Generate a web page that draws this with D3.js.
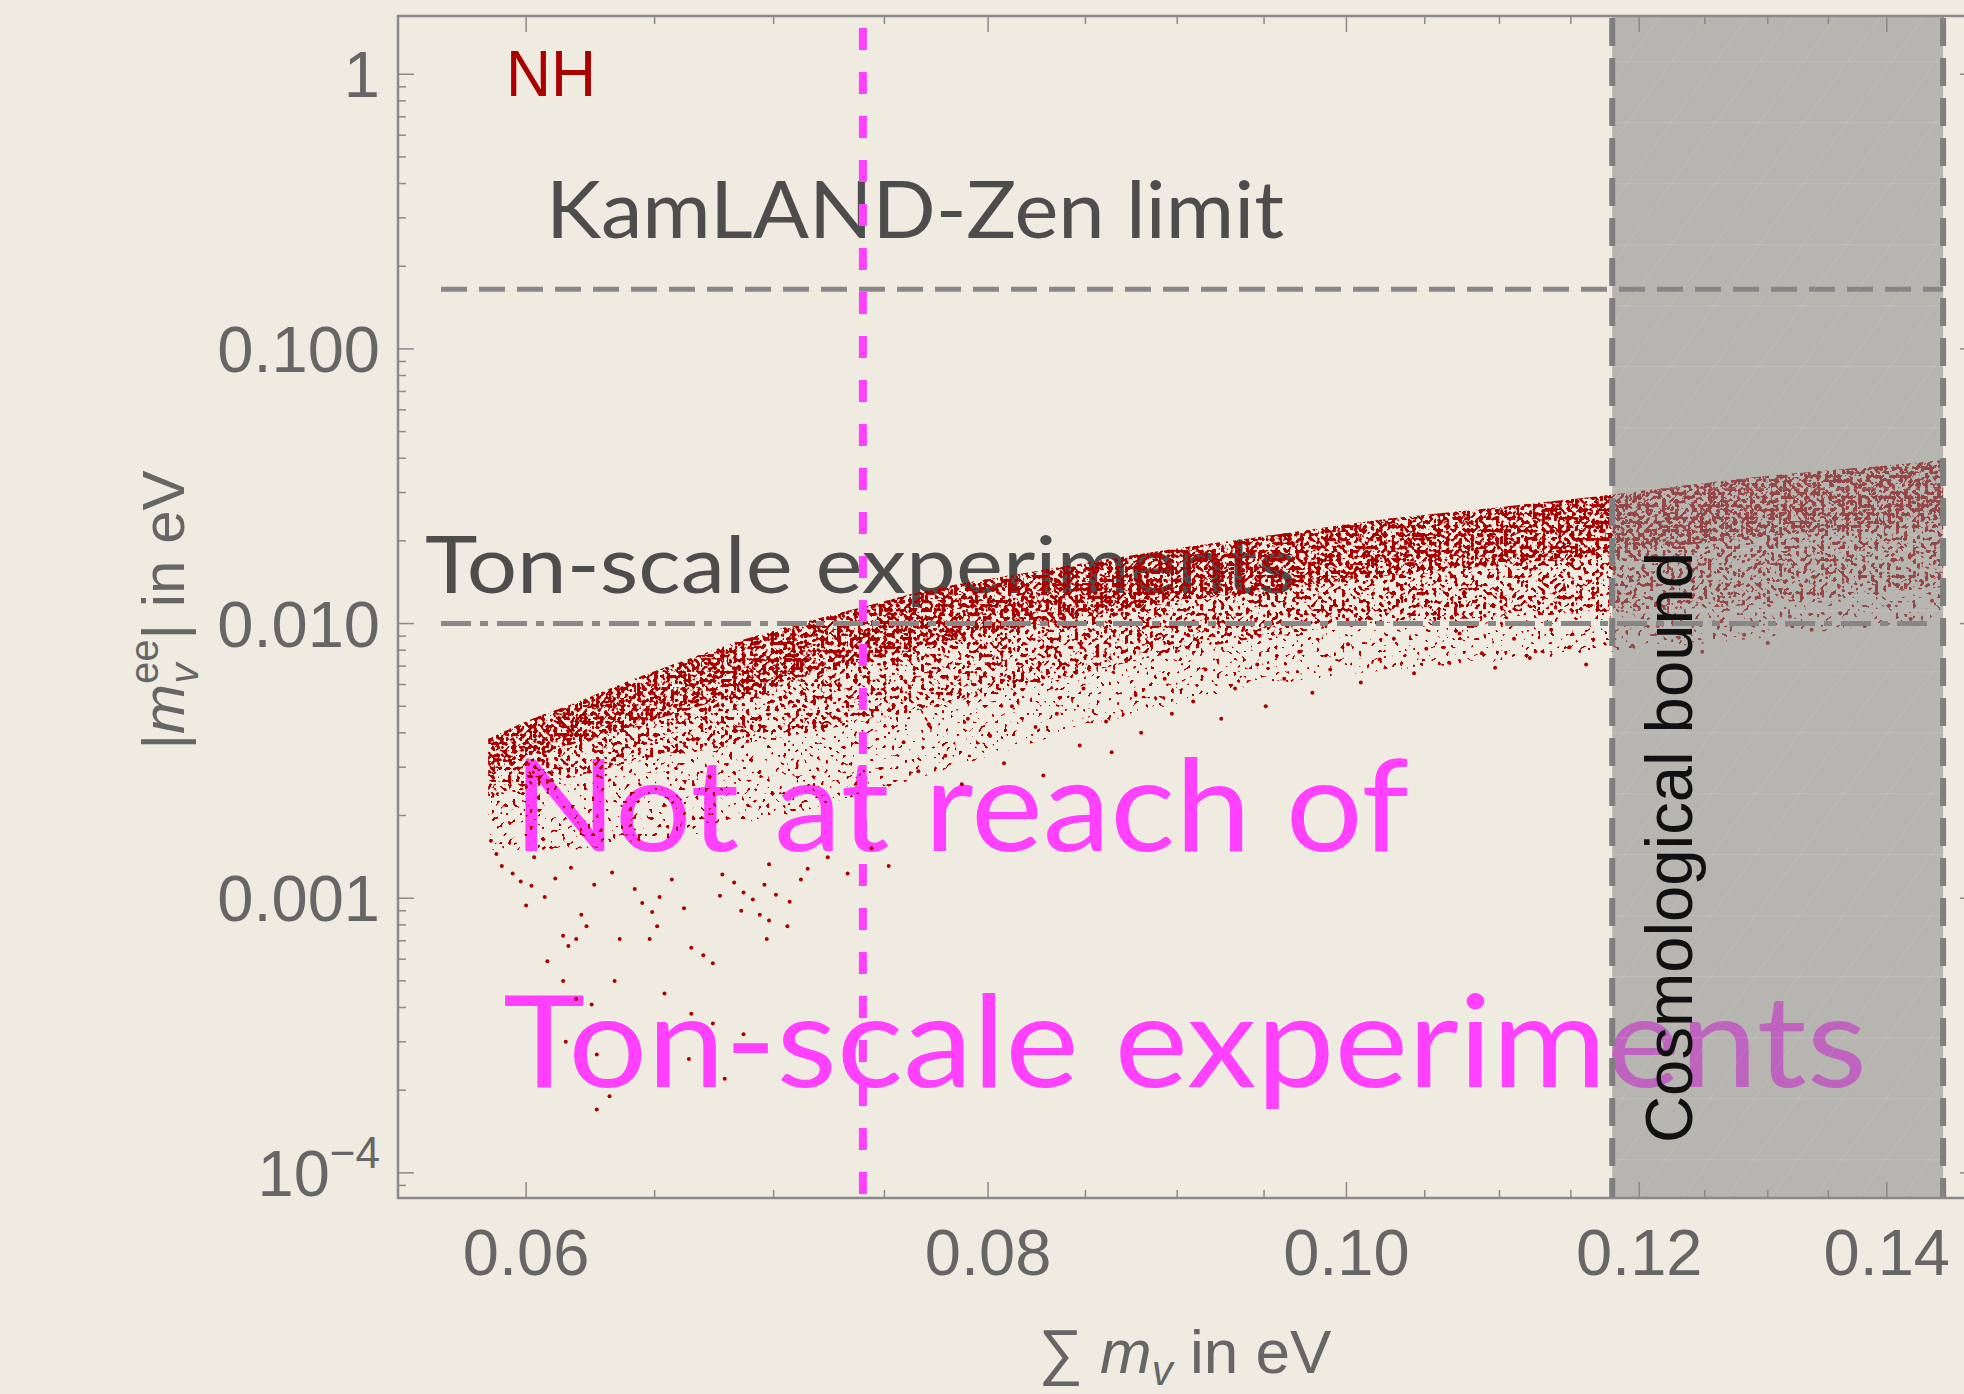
<!DOCTYPE html>
<html>
<head>
<meta charset="utf-8">
<script src="https://cdn.jsdelivr.net/npm/d3@7"></script>
<style>
  html, body { margin: 0; padding: 0; background: #efebe0; }
  svg { display: block; }
</style>
</head>
<body>
<svg id="chart" width="1964" height="1394"></svg>
<script>
// |m_ee| against the sum of neutrino masses (normal hierarchy)

var svg = d3.select("#chart");
var W = 1964, H = 1394;

// ---- data ----
var xTicks = [0.06, 0.08, 0.10, 0.12, 0.14];
var xTickLabels = ["0.06", "0.08", "0.10", "0.12", "0.14"];
var yTicks = [1, 0.1, 0.01, 0.001];
var yTickLabels = ["1", "0.100", "0.010", "0.001"];

var kamlandLimit = 0.165;
var tonScaleLimit = 0.010;
var magentaSum = 0.0740;
var cosmoBound = [0.118, 0.145];

// edges of the scatter band: top, dense core, bulk, sparse fringe
var bandSum    = [0.0586, 0.0600, 0.0620, 0.0640, 0.0665, 0.0690, 0.0715, 0.0740, 0.0770, 0.0807, 0.0840, 0.0872, 0.0905,
                  0.0943, 0.0980, 0.1019, 0.1060, 0.1102, 0.1140, 0.1178, 0.1230, 0.1288, 0.1340, 0.1400, 0.1450];
var bandTop    = [0.0038, 0.0044, 0.0052, 0.0062, 0.0075, 0.0089, 0.0102, 0.0115, 0.0132, 0.0148, 0.0162, 0.0176, 0.0190,
                  0.0205, 0.0221, 0.0238, 0.0252, 0.0266, 0.0280, 0.0294, 0.0316, 0.0340, 0.0358, 0.0376, 0.0394];
var bandCore   = [0.0029, 0.0032, 0.0037, 0.0042, 0.0049, 0.0057, 0.0065, 0.0073, 0.0083, 0.0094, 0.0103, 0.0112, 0.0121,
                  0.0130, 0.0139, 0.0148, 0.0156, 0.0164, 0.0172, 0.0180, 0.0192, 0.0205, 0.0216, 0.0228, 0.0240];
var bandLow    = [0.0023, 0.0025, 0.0028, 0.0031, 0.0034, 0.0037, 0.0040, 0.0044, 0.0049, 0.0057, 0.0064, 0.0072, 0.0080,
                  0.0088, 0.0095, 0.0100, 0.0103, 0.0106, 0.0108, 0.0110, 0.0113, 0.0117, 0.0123, 0.0130, 0.0136];
var bandFringe = [0.0015, 0.0015, 0.0015, 0.0016, 0.0017, 0.0019, 0.0021, 0.0024, 0.0028, 0.0034, 0.0040, 0.0046, 0.0052,
                  0.0058, 0.0063, 0.0067, 0.0070, 0.0073, 0.0076, 0.0079, 0.0083, 0.0088, 0.0093, 0.0099, 0.0105];

// single points below the band
var tailPoints = [
  [0.0598,0.00115],[0.0602,0.00111],[0.0600,0.00094],[0.0607,0.00101],[0.0614,0.00073],[0.0616,0.00067],
  [0.0621,0.00087],[0.0623,0.00079],[0.0619,0.00071],[0.0608,0.00059],[0.0614,0.00050],[0.0634,0.00050],
  [0.0636,0.00071],[0.0645,0.00096],[0.0648,0.00071],[0.0649,0.00089],[0.0651,0.00079],[0.0652,0.00101],
  [0.0654,0.00045],[0.0665,0.00066],[0.0665,0.00038],[0.0670,0.00062],[0.0674,0.00058],[0.0674,0.00035],
  [0.0678,0.00122],[0.0677,0.00102],[0.0687,0.00105],[0.0686,0.00090],[0.0691,0.00099],[0.0694,0.00087],
  [0.0696,0.00112],[0.0698,0.00083],[0.0697,0.00071],[0.0701,0.00103],[0.0707,0.00097],[0.0706,0.00079],
  [0.0698,0.00133],[0.0715,0.00128],[0.0687,0.00032],[0.0679,0.00022],[0.0625,0.00041],[0.0619,0.00043],
  [0.0615,0.00030],[0.0627,0.00027],[0.0632,0.00019],[0.0627,0.00017],[0.0664,0.00026],
  [0.0587,0.00162],[0.0591,0.00131],[0.0589,0.00145],[0.0595,0.00123],[0.0603,0.00141],[0.0611,0.00118],
  [0.0617,0.00129],[0.0626,0.00112],[0.0633,0.00124],[0.0642,0.00108],[0.0657,0.00117],[0.0662,0.00092],
  [0.0683,0.00114],[0.0712,0.00117],[0.0724,0.00141],[0.0733,0.00123],[0.0744,0.00152],[0.0752,0.00131],
  [0.0759,0.0037],[0.0766,0.0029],[0.0771,0.0043],[0.0779,0.0033],[0.0787,0.0026],[0.0790,0.0045],
  [0.0801,0.0039],[0.0808,0.0031],[0.0812,0.0050],[0.0824,0.0042],[0.0828,0.0028],[0.0835,0.0047],
  [0.0847,0.0036],[0.0849,0.0058],[0.0861,0.0044],[0.0864,0.0034],[0.0877,0.0055],[0.0880,0.0040],
  [0.0893,0.0063],[0.0897,0.0047],[0.0909,0.0052],[0.0916,0.0068],[0.0925,0.0045],[0.0933,0.0058],
  [0.0946,0.0071],[0.0951,0.0050],[0.0962,0.0063],[0.0971,0.0079],[0.0979,0.0056],[0.0990,0.0068],
  [0.1001,0.0084],[0.1009,0.0061],[0.1021,0.0074],[0.1030,0.0088],[0.1043,0.0066],[0.1051,0.0081],
  [0.1066,0.0072],[0.1073,0.0092],[0.1088,0.0078],[0.1097,0.0069],[0.1110,0.0088],[0.1121,0.0075],
  [0.1136,0.0095],[0.1149,0.0082],[0.1161,0.0071],[0.1181,0.0093],[0.1195,0.0083],[0.1214,0.0098],
  [0.1230,0.0089],[0.1248,0.0079],[0.1263,0.0102],[0.1281,0.0091],[0.1300,0.0085],[0.1318,0.0106],
  [0.1336,0.0095],[0.1360,0.0109],[0.1381,0.0098],[0.1402,0.0116],[0.1421,0.0104],[0.1440,0.0121]
];

// ---- scales ----
var plotL = 398, plotR = 1976, plotT = 16, plotB = 1198;
var x = d3.scaleLog().domain([0.0554, 0.148]).range([plotL, plotR]);
var y = d3.scaleLog().domain([8.1e-5, 1.63]).range([plotB, plotT]);

var tickCol = "#8a8a8a", labelCol = "#666666", darkRed = "#aa0000", magenta = "#ff40ff";

var defs = svg.append("defs");
defs.append("clipPath").attr("id", "plotClip")
  .append("rect").attr("x", plotL).attr("y", plotT).attr("width", plotR - plotL).attr("height", plotB - plotT);

// noise filters give the band its dotted look (threshold sets the share of dots)
function speckle(id, seed, threshold) {
  var f = defs.append("filter").attr("id", id)
    .attr("filterUnits", "userSpaceOnUse")
    .attr("x", 0).attr("y", 0).attr("width", W).attr("height", H)
    .attr("color-interpolation-filters", "sRGB");
  f.append("feTurbulence").attr("type", "fractalNoise").attr("baseFrequency", 0.24)
    .attr("numOctaves", 1).attr("seed", seed).attr("result", "noise");
  f.append("feColorMatrix").attr("in", "noise").attr("type", "matrix")
    .attr("values", "0 0 0 0 0  0 0 0 0 0  0 0 0 0 0  30 0 0 0 " + (-30 * threshold)).attr("result", "mask");
  f.append("feComposite").attr("in", "SourceGraphic").attr("in2", "mask").attr("operator", "in");
}
speckle("speckleFringe", 7, 0.64);
speckle("speckleLow", 4, 0.56);
speckle("speckleCore", 11, 0.52);

// hatch inside the excluded region
var hatch = defs.append("pattern").attr("id", "hatch").attr("patternUnits", "userSpaceOnUse")
  .attr("width", 44).attr("height", 61).attr("patternTransform", "skewX(-36)");
hatch.append("line").attr("x1", 0).attr("y1", 0).attr("x2", 0).attr("y2", 61)
  .attr("stroke", "#ffffff").attr("stroke-opacity", 0.13).attr("stroke-width", 1.5);
hatch.append("line").attr("x1", 0).attr("y1", 0.5).attr("x2", 44).attr("y2", 0.5)
  .attr("stroke", "#ffffff").attr("stroke-opacity", 0.10).attr("stroke-width", 1.5);

var plot = svg.append("g").attr("clip-path", "url(#plotClip)");

// ---- annotation texts (under the points) ----
plot.append("text").attr("x", 546).attr("y", 238)
  .attr("font-family", "Lato, 'Open Sans', sans-serif").attr("font-size", 80)
  .attr("textLength", 738).attr("lengthAdjust", "spacingAndGlyphs")
  .attr("fill", "#4d4d4d").text("KamLAND-Zen limit");

plot.append("text").attr("x", 425).attr("y", 593)
  .attr("font-family", "Lato, 'Open Sans', sans-serif").attr("font-size", 80)
  .attr("textLength", 871).attr("lengthAdjust", "spacingAndGlyphs")
  .attr("fill", "#4d4d4d").text("Ton-scale experiments");

plot.append("text").attr("x", 513).attr("y", 851)
  .attr("font-family", "Lato, 'Open Sans', sans-serif").attr("font-size", 128)
  .attr("textLength", 896).attr("lengthAdjust", "spacingAndGlyphs")
  .attr("fill", magenta).text("Not at reach of");

plot.append("text").attr("x", 503).attr("y", 1087)
  .attr("font-family", "Lato, 'Open Sans', sans-serif").attr("font-size", 128)
  .attr("textLength", 1364).attr("lengthAdjust", "spacingAndGlyphs")
  .attr("fill", magenta).text("Ton-scale experiments");

// ---- scatter band ----
var bandRows = bandSum.map(function(s, i) {
  return { s: s, top: bandTop[i], core: bandCore[i], low: bandLow[i], fringe: bandFringe[i] };
});

function bandArea(lowKey) {
  return d3.area().curve(d3.curveMonotoneX)
    .x(function(d) { return x(d.s); })
    .y0(function(d) { return y(d[lowKey]); })
    .y1(function(d) { return y(d.top); });
}

plot.append("path").attr("d", bandArea("fringe")(bandRows)).attr("fill", darkRed).attr("filter", "url(#speckleFringe)");
plot.append("path").attr("d", bandArea("low")(bandRows)).attr("fill", darkRed).attr("filter", "url(#speckleLow)");
plot.append("path").attr("d", bandArea("core")(bandRows)).attr("fill", darkRed).attr("filter", "url(#speckleCore)");

plot.selectAll("circle.tail").data(tailPoints).enter().append("circle")
  .attr("class", "tail")
  .attr("cx", function(d) { return x(d[0]); })
  .attr("cy", function(d) { return y(d[1]); })
  .attr("r", 2)
  .attr("fill", darkRed);

// ---- limit lines ----
plot.append("line")
  .attr("x1", 441).attr("x2", x(cosmoBound[1]))
  .attr("y1", y(kamlandLimit)).attr("y2", y(kamlandLimit))
  .attr("stroke", "#888888").attr("stroke-width", 5).attr("stroke-dasharray", "26,12");

plot.append("line")
  .attr("x1", 441).attr("x2", x(cosmoBound[1]) - 12)
  .attr("y1", y(tonScaleLimit)).attr("y2", y(tonScaleLimit))
  .attr("stroke", "#888888").attr("stroke-width", 5).attr("stroke-dasharray", "30,9,8,9");

plot.append("line")
  .attr("x1", x(magentaSum)).attr("x2", x(magentaSum))
  .attr("y1", 28).attr("y2", plotB)
  .attr("stroke", magenta).attr("stroke-width", 8).attr("stroke-dasharray", "22,22");

// ---- cosmological bound ----
plot.append("rect")
  .attr("x", x(cosmoBound[0])).attr("y", plotT)
  .attr("width", x(cosmoBound[1]) - x(cosmoBound[0])).attr("height", plotB - plotT)
  .attr("fill", "#848484").attr("fill-opacity", 0.53);
plot.append("rect")
  .attr("x", x(cosmoBound[0])).attr("y", plotT)
  .attr("width", x(cosmoBound[1]) - x(cosmoBound[0])).attr("height", plotB - plotT)
  .attr("fill", "url(#hatch)");

cosmoBound.forEach(function(v) {
  plot.append("line")
    .attr("x1", x(v)).attr("x2", x(v)).attr("y1", plotT + 2).attr("y2", plotB)
    .attr("stroke", "#7f7f7f").attr("stroke-width", 6).attr("stroke-dasharray", "28,12");
});

svg.append("text")
  .attr("transform", "translate(1692,1143) rotate(-90)")
  .attr("font-family", "'Liberation Sans', Arial, sans-serif").attr("font-size", 66)
  .attr("textLength", 591).attr("lengthAdjust", "spacingAndGlyphs")
  .attr("fill", "#111111").text("Cosmological bound");

svg.append("text").attr("x", 506).attr("y", 96)
  .attr("font-family", "'Liberation Sans', Arial, sans-serif").attr("font-size", 65)
  .attr("textLength", 90).attr("lengthAdjust", "spacingAndGlyphs")
  .attr("fill", darkRed).text("NH");

// ---- frame and ticks ----
var frame = svg.append("g").attr("stroke", tickCol).attr("fill", "none");
frame.append("rect").attr("x", plotL).attr("y", plotT).attr("width", plotR - plotL).attr("height", plotB - plotT)
  .attr("stroke-width", 2.5);

var xMinor = d3.range(0.06, 0.1451, 0.005).filter(function(v) {
  return xTicks.every(function(t) { return Math.abs(t - v) > 1e-6; });
});
var yMinor = [];
[-5, -4, -3, -2, -1].forEach(function(e) {
  d3.range(2, 10).forEach(function(k) {
    var v = k * Math.pow(10, e);
    if (v > 8.1e-5 && v < 1.63) yMinor.push(v);
  });
});

function xTick(v, len) {
  frame.append("line").attr("x1", x(v)).attr("x2", x(v)).attr("y1", plotB).attr("y2", plotB - len).attr("stroke-width", 1.5);
  frame.append("line").attr("x1", x(v)).attr("x2", x(v)).attr("y1", plotT).attr("y2", plotT + len).attr("stroke-width", 1.5);
}
function yTick(v, len) {
  frame.append("line").attr("x1", plotL).attr("x2", plotL + len).attr("y1", y(v)).attr("y2", y(v)).attr("stroke-width", 1.5);
  frame.append("line").attr("x1", plotR).attr("x2", plotR - len).attr("y1", y(v)).attr("y2", y(v)).attr("stroke-width", 1.5);
}
xTicks.forEach(function(v) { xTick(v, 16); });
xMinor.forEach(function(v) { xTick(v, 8); });
yTicks.concat([0.0001]).forEach(function(v) { yTick(v, 16); });
yMinor.forEach(function(v) { yTick(v, 8); });

// tick labels
svg.selectAll("text.xlab").data(xTicks).enter().append("text")
  .attr("class", "xlab")
  .attr("x", function(d) { return x(d); }).attr("y", 1275)
  .attr("text-anchor", "middle")
  .attr("font-family", "'Liberation Sans', Arial, sans-serif").attr("font-size", 65)
  .attr("fill", labelCol)
  .text(function(d, i) { return xTickLabels[i]; });

svg.selectAll("text.ylab").data(yTicks).enter().append("text")
  .attr("class", "ylab")
  .attr("x", 380).attr("y", function(d) { return y(d) + 23; })
  .attr("text-anchor", "end")
  .attr("font-family", "'Liberation Sans', Arial, sans-serif").attr("font-size", 65)
  .attr("fill", labelCol)
  .text(function(d, i) { return yTickLabels[i]; });

var e4 = svg.append("text").attr("x", 380).attr("y", y(0.0001) + 23)
  .attr("text-anchor", "end")
  .attr("font-family", "'Liberation Sans', Arial, sans-serif").attr("font-size", 65)
  .attr("fill", labelCol);
e4.append("tspan").text("10");
e4.append("tspan").attr("font-size", 44).attr("dy", -28).text("\u22124");

// axis titles
var xt = svg.append("text").attr("x", 1185).attr("y", 1373)
  .attr("text-anchor", "middle")
  .attr("font-family", "'Liberation Sans', Arial, sans-serif").attr("font-size", 62)
  .attr("fill", labelCol);
xt.append("tspan").text("\u2211 ");
xt.append("tspan").attr("font-style", "italic").text("m");
xt.append("tspan").attr("font-style", "italic").attr("font-size", 42).attr("dy", 12).text("v");
xt.append("tspan").attr("dy", -12).text(" in eV");

var yt = svg.append("text").attr("transform", "translate(184,610) rotate(-90)")
  .attr("text-anchor", "middle")
  .attr("font-family", "'Liberation Sans', Arial, sans-serif").attr("font-size", 60)
  .attr("fill", labelCol);
yt.append("tspan").text("|");
yt.append("tspan").attr("font-style", "italic").text("m");
yt.append("tspan").attr("font-size", 40).attr("dy", -26).text("ee");
yt.append("tspan").attr("font-size", 40).attr("font-style", "italic").attr("dx", -44).attr("dy", 40).text("v");
yt.append("tspan").attr("dx", 24).attr("dy", -14).text("| in eV");
</script>
</body>
</html>
